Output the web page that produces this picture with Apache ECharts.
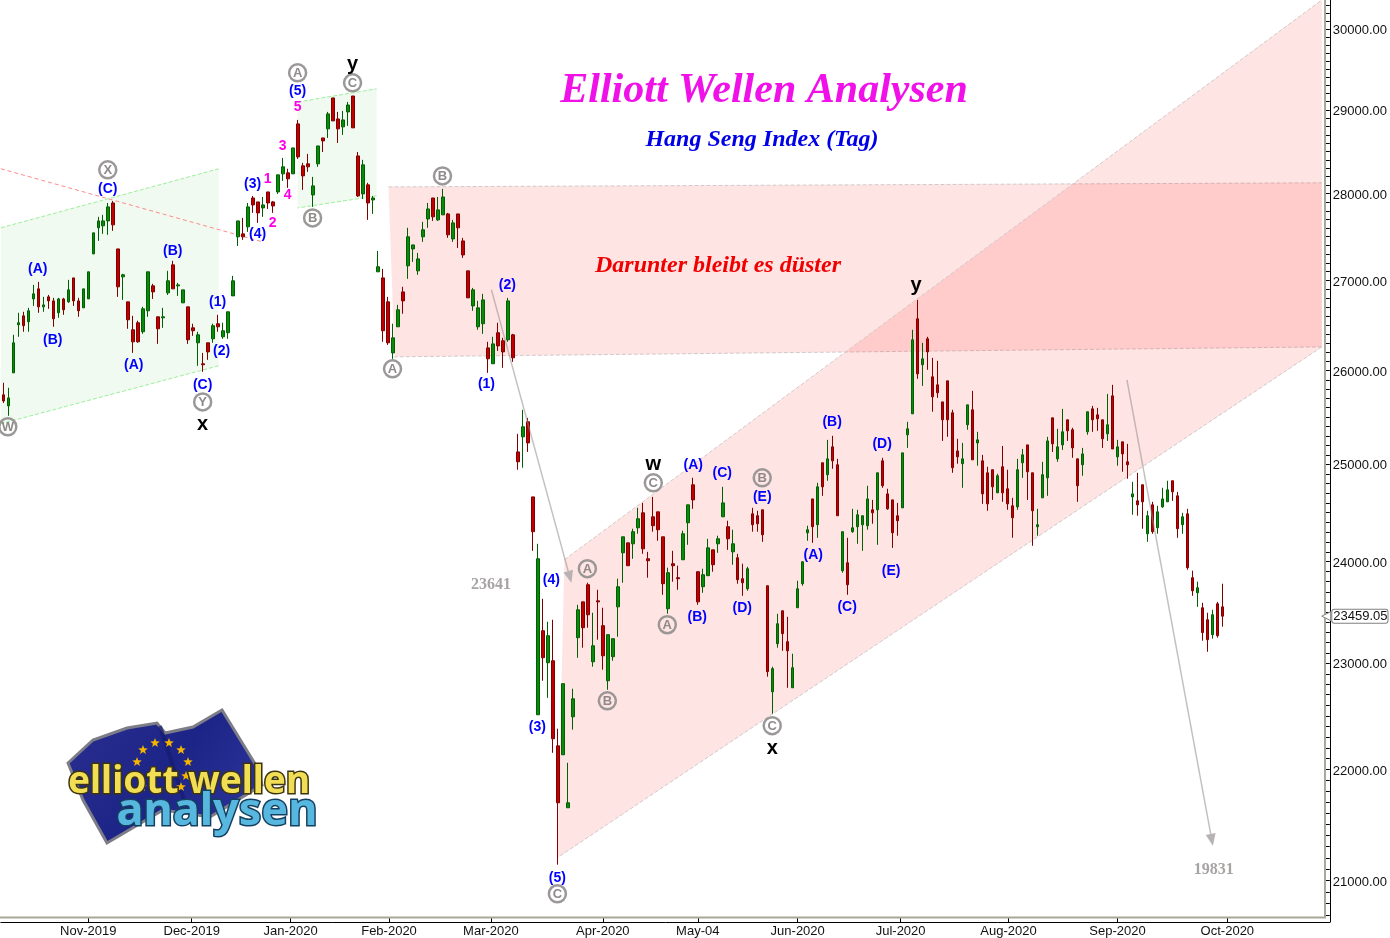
<!DOCTYPE html>
<html><head><meta charset="utf-8">
<style>html,body{margin:0;padding:0;background:#fff}#c{width:1390px;height:938px}</style>
<script src="https://cdn.jsdelivr.net/npm/echarts@6/dist/echarts.min.js"></script>
</head><body><div id="c"></div>
<script>
const highs=[
25868,25814,26393,26638,26649,26693,26951,26985,26816,26838,
26805,26805,26805,27008,27030,26805,26906,27099,27545,27730,
27753,27892,27915,27360,27076,26760,26604,26549,26704,27099,
26963,26593,26693,27110,27224,26974,26895,26704,26516,26427,
26194,26305,26516,26615,26527,26649,27053,27683,27718,27892,
27974,27904,27962,28021,27915,28222,28423,28294,28542,28879,
28364,28471,28198,28566,28662,28976,29146,28976,28988,29097,
29170,28494,28400,28128,27974,27337,27133,26816,26516,26726,
26929,27603,27406,27314,27672,27892,27950,27962,28057,27776,
27695,27764,27487,27110,26917,26771,26850,26316,26371,26527,
26360,26805,26404,25321,25577,25491,24661,24181,23630,23404,
23424,22379,22805,22062,22757,23571,23600,23790,23493,23720,
23542,23278,23239,23830,24252,24191,24334,24548,24599,24100,
24661,24507,24252,23940,24110,23960,24314,24579,24859,23900,
23930,24232,24120,24263,24765,24416,24324,24080,23980,23950,
24548,24518,24528,23760,22968,23483,23512,23453,23093,23810,
24000,24365,24640,24807,25016,25257,25300,25057,24304,24242,
24538,24528,24467,24776,24630,24911,25068,24745,24630,24599,
25120,25449,26449,26782,26305,26371,26140,26107,25662,25889,
25577,25268,25225,25630,25781,25342,25099,24974,24943,24901,
25193,24943,24651,25057,25161,25204,24911,24538,25026,25289,
25491,25374,25587,25470,25385,25057,25172,25556,25619,25598,
25470,25748,25846,25257,25236,25215,24817,24911,24786,24518,
24610,24569,24755,24828,24828,24713,24497,24538,23910,23800,
23591,23493,23522,23600,23780];
const bodyTops=[
25738,25705,26305,26527,26604,26660,26850,26906,26726,26816,
26771,26793,26793,26895,27030,26771,26906,27099,27545,27683,
27683,27846,27892,27360,27065,26760,26449,26527,26682,27099,
26940,26593,26593,26997,27178,26951,26895,26704,26471,26393,
26075,26305,26494,26516,26438,26649,26997,27683,27533,27846,
27950,27904,27869,28021,27904,28222,28317,28246,28542,28831,
28329,28353,28092,28566,28662,28952,29146,28891,28879,29060,
29170,28447,28341,28104,27950,27156,27030,26760,26360,26671,
26872,27499,27406,27246,27580,27822,27950,27811,27962,27764,
27660,27764,27452,27110,26895,26693,26782,26249,26293,26416,
26327,26771,26393,25130,25396,25449,24661,24030,23317,23268,
23025,22219,22805,21695,22661,23522,23600,23770,23170,23610,
23366,23278,23239,23750,24252,24191,24304,24436,24497,24030,
24456,24507,24252,23890,23980,23840,24283,24579,24786,23900,
23870,24140,24120,24232,24599,24355,24181,24040,23830,23930,
24487,24467,24528,23760,22949,23385,23512,23210,22958,23730,
24000,24324,24640,24765,25016,25057,25183,24995,24304,23990,
24344,24477,24467,24640,24528,24911,25036,24692,24630,24467,
25120,25374,26338,26571,26129,26349,25933,25846,25662,25889,
25545,25140,25057,25630,25577,25257,25036,24911,24943,24880,
24974,24745,24569,24943,25099,25204,24911,24375,24891,25246,
25491,25183,25342,25470,25364,25057,25109,25556,25587,25523,
25470,25417,25727,25183,25236,25026,24692,24620,24786,24467,
24579,24507,24640,24734,24828,24672,24456,24487,23840,23740,
23542,23424,23473,23581,23551];
const bodyBottoms=[
25672,25619,25976,26505,26494,26538,26793,26704,26704,26771,
26571,26638,26671,26760,26771,26660,26693,26793,27303,27603,
27626,27683,27637,26929,27042,26560,26316,26316,26427,26660,
26872,26460,26582,26861,26906,26940,26749,26338,26438,26305,
26064,26205,26349,26482,26371,26416,26827,27499,27499,27614,
27869,27776,27834,27892,27857,28021,28234,28175,28234,28435,
28210,28317,27986,28353,28626,28771,28867,28771,28795,28976,
28783,27974,27998,27892,27927,27099,26438,26305,26194,26482,
26771,27167,27360,27110,27499,27706,27730,27695,27753,27522,
27475,27603,27291,26805,26715,26482,26516,26129,26075,26271,
26205,26338,26140,25026,25289,25225,24304,22510,23054,23006,
22285,21695,22136,21650,22491,23249,23346,23473,23015,23600,
23073,22833,23064,23551,24090,23960,24181,24344,24130,24010,
24365,24324,23780,23532,23960,23830,24020,24395,24630,23600,
23750,23860,23970,24181,24456,24232,24100,23820,23790,23730,
24375,24385,24273,22920,22728,23190,23288,23121,22766,23542,
23780,24293,24355,24375,24765,24891,25036,24467,23910,23770,
24304,24355,24375,24365,24497,24528,24776,24538,24293,24416,
24548,25311,25534,25965,26064,26205,25716,25760,25470,25470,
24964,25078,25006,25417,25047,25225,24692,24589,24765,24703,
24703,24589,24446,24558,25016,24922,24518,24355,24651,24859,
25215,25057,25204,25353,25172,24776,24995,25342,25470,25481,
25268,25321,25161,25078,25109,24995,24661,24579,24610,24283,
24304,24344,24558,24610,24713,24334,24375,23940,23710,23690,
23298,23229,23278,23268,23459.05];
const lows=[
25651,25513,25976,26371,26427,26427,26715,26638,26649,26682,
26482,26582,26615,26749,26715,26593,26693,26793,27303,27452,
27533,27522,27568,26816,26782,26460,26194,26305,26404,26593,
26793,26293,26471,26838,26906,26827,26749,26293,26382,26053,
25987,26118,26305,26427,26349,26349,26827,27394,27464,27556,
27776,27660,27730,27822,27776,27998,28151,28069,28234,28411,
28045,28258,27846,28317,28494,28662,28867,28602,28698,28807,
28783,27962,27939,27695,27764,27099,26316,26282,26129,26482,
26627,27019,27212,27065,27441,27603,27683,27683,27753,27487,
27441,27371,27257,26805,26660,26449,26404,25976,26075,26216,
26031,26316,26096,24943,24964,25130,24110,22510,22833,22670,
22154,21140,22136,21650,22370,23054,23151,23346,22968,23229,
22939,22747,23025,23258,23790,23960,24030,24283,24080,23840,
24304,24212,23670,23483,23800,23720,24020,24171,24538,23571,
23690,23860,23900,24090,24456,24120,23970,23780,23660,23710,
24304,24304,24201,22872,22520,23151,23121,22766,22766,23542,
23760,24212,24191,24242,24672,24828,24953,24467,23890,23670,
24293,24181,24110,24324,24385,24171,24755,24528,24140,24263,
24548,25172,25534,25911,25835,26009,25556,25705,25246,25289,
24911,25006,24755,25364,25047,24985,24589,24518,24630,24703,
24610,24528,24242,24528,24859,24630,24161,24263,24651,24672,
25130,25026,25151,25246,25068,24610,24880,25311,25342,25353,
25172,25246,25161,24985,24922,24849,24477,24467,24334,24201,
24283,24283,24548,24610,24620,24242,24283,23920,23660,23551,
23219,23112,23239,23249,23356];
const directions=
"RGGGRGGRGR"+"RGRGRRGGGG"+"GGRRGRRRGG"+"RRGGRGGRRG"+"RRGRGGGGRG"+
"RRGRRGGRGR"+"RRGGRGRRGG"+"RRGRGGRRGG"+"RGGGGGRGGR"+"GRRRGGGRGR"+
"RGRRGRRGRG"+"RRGGGGRRGR"+"RGGGGRGGRR"+"RRRGRRGGRR"+"GGRGGRGRRG"+
"RRRRGGRRGG"+"GGRGRGRRGR"+"GGGGRGRRRR"+"GGGRGRRRRR"+"RRGGRGRRRG"+
"RRRGGRRGGG"+"RGGRRRGGRR"+"RGRGRRGRRG"+"RGGGRRGRRG"+"RRGRR";

const tickPositions=[17,37.7,57.5,77.2,97.6,120,139,159,179.6,201.2,223,245];
const tickLabels=["Nov-2019","Dec-2019","Jan-2020","Feb-2020","Mar-2020","Apr-2020","May-04","Jun-2020","Jul-2020","Aug-2020","Sep-2020","Oct-2020"];
const priceLabels=[21000,22000,23000,24000,25000,26000,27000,28000,29000,30000];
const lastPrice=23459.05;

/* channels: [index, price] corners; edges a-b and c-d are dashed */
const greenChannels=[
 [[-0.5,27603],[43.1,28294],[43.1,26053],[-0.5,25428]],
 [[58.9,29097],[74.7,29257],[74.7,27974],[58.9,27834]]
];
const pinkChannels=[
 [[77.1,28080],[263.9,28128],[263.9,26260],[78.3,26151]],
 [[112.3,24020],[263.9,30366],[263.9,26260],[110.9,21202]]
];
const trendLine=[[-0.5,28294],[51.9,27441]];
const arrows=[
 [[97.7,26895],[113.7,23790]],
 [[224.9,25900],[242.1,21308]]
];
const blueLabels=[
[6.9,27145,"(A)"],[9.9,26349,"(B)"],[20.9,28069,"(C)"],[26.1,26075,"(A)"],[33.9,27348,"(B)"],
[39.9,25857,"(C)"],[42.9,26771,"(1)"],[43.7,26227,"(2)"],[49.9,28128,"(3)"],[50.9,27545,"(4)"],
[58.9,29244,"(5)"],[96.7,25868,"(1)"],[100.9,26963,"(2)"],[106.9,22407,"(3)"],[109.7,23830,"(4)"],
[110.9,21034,"(5)"],[138.1,25005,"(A)"],[143.9,24922,"(C)"],[151.9,24672,"(E)"],[138.9,23464,"(B)"],
[147.9,23551,"(D)"],[162.1,24080,"(A)"],[165.9,25459,"(B)"],[168.9,23561,"(C)"],[175.9,25225,"(D)"],[177.7,23920,"(E)"]
];
const magentaLabels=[[58.9,29048,"5"],[55.9,28578,"3"],[52.9,28187,"1"],[56.9,27998,"4"],[53.9,27672,"2"]];
const blackLabels=[[69.9,29566,"y"],[39.9,25428,"x"],[130.1,25005,"w"],[182.7,26951,"y"],[153.9,22200,"x"]];
const circleLabels=[
[20.9,28282,"X"],[0.9,25396,"W"],[39.9,25662,"Y"],[58.9,29454,"A"],[69.9,29331,"C"],[61.9,27718,"B"],
[77.9,26020,"A"],[87.9,28210,"B"],[130.1,24807,"C"],[116.9,23930,"A"],[120.9,22642,"B"],[132.9,23375,"A"],
[151.9,24859,"B"],[153.9,22407,"C"],[110.9,20884,"C"]
];
const targetLabels=[[97.6,23780,"23641"],[242.3,21105,"19831"]];

const categories=highs.map((_,i)=>String(i)).concat(Array.from({length:21},(_,i)=>String(245+i)));
const candles=highs.map((h,i)=>{
  const up=directions[i]==="G";
  return [up?bodyBottoms[i]:bodyTops[i],up?bodyTops[i]:bodyBottoms[i],lows[i],h];
});
const minorTicks=[];for(let v=20700;v<=30300;v+=100)minorTicks.push(v);

function polygonSeries(list,fill,edge,z){
  return {type:'custom',xAxisIndex:1,yAxisIndex:0,z,silent:true,clip:true,data:list.map((_,i)=>[i]),
    encode:{x:0},
    renderItem(p,api){
      const pts=list[p.dataIndex].map(c=>api.coord(c));
      const ln=(a,b)=>({type:'line',shape:{x1:a[0],y1:a[1],x2:b[0],y2:b[1]},
        style:{stroke:edge,lineWidth:1,lineDash:[4,2],fill:null}});
      return {type:'group',children:[
        {type:'polygon',shape:{points:pts},style:{fill}},
        ln(pts[0],pts[1]),ln(pts[2],pts[3])]};
    }};
}
function labelSeries(list,label,extra){
  return Object.assign({type:'scatter',xAxisIndex:1,yAxisIndex:0,silent:true,z:6,clip:false,symbolSize:0,
    itemStyle:{opacity:1},data:list,
    label:Object.assign({show:true,position:'inside',offset:[0,1],formatter:p=>p.value[2]},label)},extra||{});
}
function star(cx,cy,r){
  const pts=[];for(let k=0;k<10;k++){const a=-Math.PI/2+k*Math.PI/5,q=k%2?r*0.42:r;pts.push([cx+q*Math.cos(a),cy+q*Math.sin(a)]);}
  return {type:'polygon',shape:{points:pts},style:{fill:'#f5b400'},z:21};
}
const starAt=[[143,750],[155,743],[169,743],[181,750],[188,762],[186,776],[181,787],[137,762],[142,787]];
const serif='"Liberation Serif","Times New Roman",serif', sans='"Liberation Sans",Arial,sans-serif';

const option={
  animation:false,backgroundColor:'#fff',
  grid:{left:0.83,top:0,width:1330,height:922,containLabel:false},
  xAxis:[
   {type:'category',data:categories,boundaryGap:true,show:false},
   {type:'value',min:-0.5,max:265.5,position:'bottom',splitLine:{show:false},
    axisLine:{show:true,onZero:false,lineStyle:{color:'#000',width:1}},
    axisTick:{show:true,inside:true,length:5,lineStyle:{color:'#000'},customValues:tickPositions},
    axisLabel:{show:true,margin:3,fontFamily:sans,fontSize:13,color:'#111',customValues:tickPositions,
      hideOverlap:false,showMinLabel:true,showMaxLabel:true,
      formatter:v=>{const k=tickPositions.findIndex(t=>Math.abs(t-v)<1e-6);return k>=0?tickLabels[k]:'';}}}
  ],
  yAxis:[{type:'log',logBase:10,position:'right',min:20638.5,max:30366.6,scale:true,splitLine:{show:false},minorTick:{show:false},
    axisLine:{show:true,onZero:false,lineStyle:{color:'#000',width:1}},
    axisTick:{show:true,inside:true,length:4,lineStyle:{color:'#000'},customValues:minorTicks},
    axisLabel:{show:true,inside:false,margin:3,fontFamily:sans,fontSize:13,color:'#111',customValues:priceLabels,
      showMinLabel:true,showMaxLabel:true,hideOverlap:false,
      formatter:v=>'{p|'+Number(v).toFixed(2)+'}',
      rich:{p:{fontFamily:sans,fontSize:13,color:'#111',padding:[3,0,0,0]}}}}],
  graphic:[
    {type:'line',shape:{x1:0,y1:917.5,x2:1326,y2:917.5},style:{stroke:'#a8a89a',lineWidth:2},z:4},
    {type:'line',shape:{x1:1325,y1:0,x2:1325,y2:918},style:{stroke:'#a8a89a',lineWidth:2},z:4},
    {type:'text',x:764,y:91,style:{text:'Elliott Wellen Analysen',fill:'#f010e8',align:'center',verticalAlign:'middle',font:'italic bold 42px '+serif},z:8},
    {type:'text',x:762,y:140,style:{text:'Hang Seng Index (Tag)',fill:'#0000e6',align:'center',verticalAlign:'middle',font:'italic bold 24px '+serif},z:8},
    {type:'text',x:718,y:266,style:{text:'Darunter bleibt es düster',fill:'#f00000',align:'center',verticalAlign:'middle',font:'italic bold 24px '+serif},z:8},
    {type:'polygon',z:20,shape:{points:[[68,763],[93,740],[127,728],[157,723],[165,733],[193,727],[222,710],[257,767],[262,785],[210,817],[163,810],[107,843],[83,800]]},
      style:{fill:{type:'linear',x:0,y:0,x2:1,y2:1,colorStops:[{offset:0,color:'#2a2f8f'},{offset:0.5,color:'#1c2487'},{offset:1,color:'#3038a0'}]},stroke:'#7d7d88',lineWidth:3}},
    {type:'line',z:20,shape:{x1:160,y1:726,x2:184,y2:800},style:{stroke:'#151b6e',lineWidth:4,opacity:0.7}},
    ...starAt.map(s=>star(s[0],s[1],5)),
    {type:'text',x:189,y:782,z:22,style:{text:'elliott wellen',fill:'#f1de55',stroke:'#3d3510',lineWidth:3,align:'center',verticalAlign:'middle',font:'bold 37px "Noto Sans",Lato,sans-serif',shadowBlur:3,shadowColor:'#333'}},
    {type:'text',x:217,y:812,z:23,style:{text:'analysen',fill:'#58b7df',stroke:'#143f5f',lineWidth:3,align:'center',verticalAlign:'middle',font:'bold 45px "Noto Sans",Lato,sans-serif',shadowBlur:3,shadowColor:'#333'}}
  ],
  series:[
    polygonSeries(greenChannels,'#f0faf0','#9cf09c',1),
    polygonSeries(pinkChannels,'rgba(255,0,0,0.106)','#d4c8c8',1),
    {type:'candlestick',xAxisIndex:0,yAxisIndex:0,z:3,barWidth:3,silent:true,data:candles,
     itemStyle:{color:'#0a8a0a',color0:'#c00000',borderColor:'#005f00',borderColor0:'#800000',borderWidth:1}},
    {type:'line',xAxisIndex:1,yAxisIndex:0,z:2,silent:true,symbol:'none',data:trendLine,lineStyle:{color:'#ff8a8a',width:1,type:[4,3]}},
    {type:'custom',xAxisIndex:1,yAxisIndex:0,z:4,silent:true,data:arrows.map((_,i)=>[i]),encode:{x:0},
     renderItem(p,api){
       const a=api.coord(arrows[p.dataIndex][0]),b=api.coord(arrows[p.dataIndex][1]);
       const t=Math.atan2(b[1]-a[1],b[0]-a[0]),L=12,W=5;
       const bx=b[0]-L*Math.cos(t),by=b[1]-L*Math.sin(t);
       return {type:'group',children:[
         {type:'line',shape:{x1:a[0],y1:a[1],x2:bx,y2:by},style:{stroke:'rgba(150,140,140,0.55)',lineWidth:1.5}},
         {type:'polygon',shape:{points:[b,[bx-W*Math.sin(t),by+W*Math.cos(t)],[bx+W*Math.sin(t),by-W*Math.cos(t)]]},style:{fill:'#b8b2b2'}}
       ]};
     }},
    labelSeries(blueLabels,{color:'#0000ff',fontFamily:sans,fontWeight:'bold',fontSize:14}),
    labelSeries(magentaLabels,{color:'#ff00e6',fontFamily:sans,fontWeight:'bold',fontSize:14}),
    labelSeries(blackLabels,{color:'#000',fontFamily:sans,fontWeight:'bold',fontSize:20}),
    labelSeries(targetLabels,{color:'#a8a4a4',fontFamily:serif,fontWeight:'bold',fontSize:16}),
    labelSeries(circleLabels,{color:'rgba(130,125,125,0.9)',fontFamily:sans,fontWeight:'bold',fontSize:13},
      {symbol:'circle',symbolSize:17,itemStyle:{opacity:1,color:'rgba(255,255,255,0)',borderColor:'rgba(150,146,146,0.95)',borderWidth:2.5}}),
    {type:'scatter',xAxisIndex:1,yAxisIndex:0,z:7,silent:true,clip:false,symbol:'triangle',symbolRotate:90,symbolSize:9,
     itemStyle:{opacity:1,color:'#fff',borderColor:'#808080',borderWidth:1},data:[[264.8,lastPrice]],
     label:{show:true,position:'right',distance:1,formatter:p=>p.value[1].toFixed(2),fontFamily:sans,fontSize:13,color:'#111',
        backgroundColor:'#fff',borderColor:'#808080',borderWidth:1,borderRadius:2,padding:[0,0,0,1]}}
  ]
};
echarts.init(document.getElementById('c')).setOption(option);
</script></body></html>
